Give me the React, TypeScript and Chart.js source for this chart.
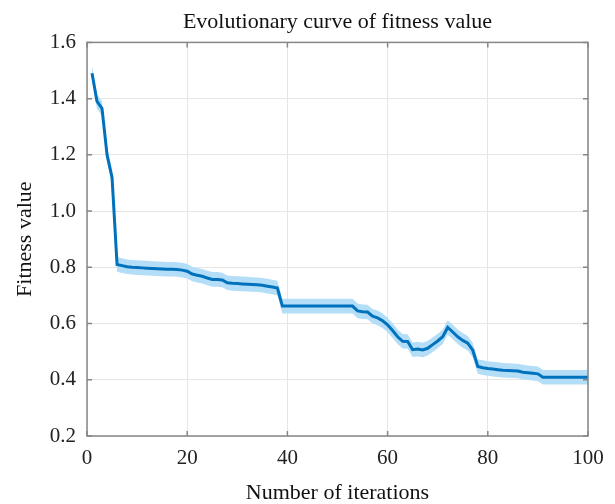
import React, { useEffect, useRef } from "react";
import { Chart, registerables } from "chart.js";

Chart.register(...registerables);

const iterations = [
  1, 2, 3, 4, 5, 6, 7, 8, 9, 10, 11, 12, 13, 14, 15, 16, 17, 18, 19, 20,
  21, 22, 23, 24, 25, 26, 27, 28, 29, 30, 31, 32, 33, 34, 35, 36, 37, 38, 39, 40,
  41, 42, 43, 44, 45, 46, 47, 48, 49, 50, 51, 52, 53, 54, 55, 56, 57, 58, 59, 60,
  61, 62, 63, 64, 65, 66, 67, 68, 69, 70, 71, 72, 73, 74, 75, 76, 77, 78, 79, 80,
  81, 82, 83, 84, 85, 86, 87, 88, 89, 90, 91, 92, 93, 94, 95, 96, 97, 98, 99, 100,
];

const fitness = [
  1.49, 1.39, 1.365, 1.2, 1.12, 0.81, 0.806, 0.802, 0.8, 0.799,
  0.798, 0.797, 0.796, 0.795, 0.794, 0.793, 0.793, 0.792, 0.79, 0.786,
  0.776, 0.772, 0.768, 0.762, 0.757, 0.757, 0.755, 0.745, 0.743, 0.742,
  0.741, 0.74, 0.739, 0.738, 0.736, 0.733, 0.73, 0.726, 0.662, 0.662,
  0.662, 0.662, 0.662, 0.662, 0.662, 0.662, 0.662, 0.662, 0.662, 0.662,
  0.662, 0.662, 0.662, 0.645, 0.642, 0.641, 0.626, 0.62, 0.61, 0.595,
  0.575, 0.553, 0.537, 0.536, 0.507, 0.509, 0.506, 0.512, 0.525, 0.538,
  0.553, 0.586, 0.57, 0.553, 0.54, 0.53, 0.505, 0.447, 0.443, 0.44,
  0.438, 0.436, 0.434, 0.433, 0.432, 0.431, 0.427, 0.425, 0.423, 0.421,
  0.409, 0.409, 0.409, 0.409, 0.409, 0.409, 0.409, 0.409, 0.409, 0.409,
];

const bandUpper = [
  1.516, 1.416, 1.391, 1.226, 1.146, 0.836, 0.832, 0.828, 0.826, 0.825,
  0.824, 0.823, 0.822, 0.821, 0.82, 0.819, 0.819, 0.818, 0.816, 0.812,
  0.802, 0.798, 0.794, 0.788, 0.783, 0.783, 0.781, 0.771, 0.769, 0.768,
  0.767, 0.766, 0.765, 0.764, 0.762, 0.759, 0.756, 0.752, 0.688, 0.688,
  0.688, 0.688, 0.688, 0.688, 0.688, 0.688, 0.688, 0.688, 0.688, 0.688,
  0.688, 0.688, 0.688, 0.671, 0.668, 0.667, 0.652, 0.646, 0.636, 0.621,
  0.601, 0.579, 0.563, 0.562, 0.533, 0.535, 0.532, 0.538, 0.551, 0.564,
  0.579, 0.612, 0.596, 0.579, 0.566, 0.556, 0.531, 0.473, 0.469, 0.466,
  0.464, 0.462, 0.46, 0.459, 0.458, 0.457, 0.453, 0.451, 0.449, 0.447,
  0.435, 0.435, 0.435, 0.435, 0.435, 0.435, 0.435, 0.435, 0.435, 0.435,
];

const bandLower = [
  1.464, 1.364, 1.339, 1.174, 1.094, 0.784, 0.78, 0.776, 0.774, 0.773,
  0.772, 0.771, 0.77, 0.769, 0.768, 0.767, 0.767, 0.766, 0.764, 0.76,
  0.75, 0.746, 0.742, 0.736, 0.731, 0.731, 0.729, 0.719, 0.717, 0.716,
  0.715, 0.714, 0.713, 0.712, 0.71, 0.707, 0.704, 0.7, 0.636, 0.636,
  0.636, 0.636, 0.636, 0.636, 0.636, 0.636, 0.636, 0.636, 0.636, 0.636,
  0.636, 0.636, 0.636, 0.619, 0.616, 0.615, 0.6, 0.594, 0.584, 0.569,
  0.549, 0.527, 0.511, 0.51, 0.481, 0.483, 0.48, 0.486, 0.499, 0.512,
  0.527, 0.56, 0.544, 0.527, 0.514, 0.504, 0.479, 0.421, 0.417, 0.414,
  0.412, 0.41, 0.408, 0.407, 0.406, 0.405, 0.401, 0.399, 0.397, 0.395,
  0.383, 0.383, 0.383, 0.383, 0.383, 0.383, 0.383, 0.383, 0.383, 0.383,
];

const xTicks = [0, 20, 40, 60, 80, 100];
const yTicks = [0.2, 0.4, 0.6, 0.8, 1.0, 1.2, 1.4, 1.6];

const titleText = "Evolutionary curve of fitness value";
const xTitle = "Number of iterations";
const yTitle = "Fitness value";

const FONT = "'Liberation Serif', 'Times New Roman', serif";

const framePlugin = {
  id: "frame",
  afterDraw(chart: any) {
    const { ctx, chartArea, scales } = chart;
    const { left, right, top, bottom } = chartArea;
    ctx.save();
    ctx.strokeStyle = "#868686";
    ctx.lineWidth = 1.5;
    ctx.strokeRect(left, top, right - left, bottom - top);
    const tl = 5;
    ctx.beginPath();
    xTicks.forEach((v) => {
      const px = scales.x.getPixelForValue(v);
      ctx.moveTo(px, bottom);
      ctx.lineTo(px, bottom - tl);
      ctx.moveTo(px, top);
      ctx.lineTo(px, top + tl);
    });
    yTicks.forEach((v) => {
      const py = scales.y.getPixelForValue(v);
      ctx.moveTo(left, py);
      ctx.lineTo(left + tl, py);
      ctx.moveTo(right, py);
      ctx.lineTo(right - tl, py);
    });
    ctx.stroke();
    ctx.restore();
  },
};

export default function App() {
  const canvasRef = useRef<HTMLCanvasElement | null>(null);

  useEffect(() => {
    const canvas = canvasRef.current;
    if (!canvas) return;
    const toPts = (arr: number[]) => arr.map((y, i) => ({ x: iterations[i], y }));
    const chart = new Chart(canvas, {
      type: "line",
      data: {
        datasets: [
          {
            label: "lower",
            data: toPts(bandLower),
            order: 2,
            borderWidth: 0,
            pointRadius: 0,
            fill: false,
            borderColor: "rgba(0,0,0,0)",
          },
          {
            label: "upper",
            data: toPts(bandUpper),
            order: 1,
            borderWidth: 0,
            pointRadius: 0,
            fill: "-1",
            backgroundColor: "rgb(180,222,248)",
            borderColor: "rgba(0,0,0,0)",
          },
          {
            label: "fitness",
            data: toPts(fitness),
            order: 0,
            borderColor: "#0072BD",
            borderWidth: 3,
            pointRadius: 0,
            fill: false,
            tension: 0,
          },
        ],
      },
      options: {
        animation: false,
        responsive: false,
        maintainAspectRatio: false,
        layout: { padding: { top: 0, right: 27, bottom: 0, left: 0 } },
        plugins: {
          legend: { display: false },
          tooltip: { enabled: false },
          title: {
            display: true,
            text: titleText,
            fullSize: false,
            color: "#111",
            font: { family: FONT, size: 22, weight: "normal", lineHeight: 1.2 },
            padding: { top: 9, bottom: 7 },
          },
        },
        scales: {
          x: {
            type: "linear",
            min: 0,
            max: 100,
            afterBuildTicks: (scale: any) => {
              scale.ticks = xTicks.map((v) => ({ value: v }));
            },
            afterFit: (scale: any) => {
              scale.height = 68;
            },
            ticks: {
              color: "#222",
              font: { family: FONT, size: 21 },
              padding: 10,
              maxRotation: 0,
              callback: (v: any) => String(v),
            },
            grid: { color: "#e6e6e6", lineWidth: 1, drawTicks: false },
            border: { display: false },
            title: {
              display: true,
              text: xTitle,
              color: "#111",
              font: { family: FONT, size: 22, lineHeight: 1 },
              padding: { top: 0, bottom: 0 },
            },
          },
          y: {
            type: "linear",
            min: 0.2,
            max: 1.6,
            afterBuildTicks: (scale: any) => {
              scale.ticks = yTicks.map((v) => ({ value: v }));
            },
            afterFit: (scale: any) => {
              scale.width = 87;
            },
            ticks: {
              color: "#222",
              font: { family: FONT, size: 21 },
              padding: 11,
              callback: (v: any) => Number(v).toFixed(1),
            },
            grid: { color: "#e6e6e6", lineWidth: 1, drawTicks: false },
            border: { display: false },
            title: {
              display: true,
              text: yTitle,
              color: "#111",
              font: { family: FONT, size: 22, lineHeight: 1.2 },
              padding: { top: 12, bottom: 0 },
            },
          },
        },
      },
      plugins: [framePlugin],
    });
    return () => chart.destroy();
  }, []);

  return (
    <div style={{ position: "fixed", left: 0, top: 0, width: 615, height: 504, background: "#fff" }}>
      <canvas ref={canvasRef} width={615} height={504} style={{ display: "block" }} />
    </div>
  );
}
